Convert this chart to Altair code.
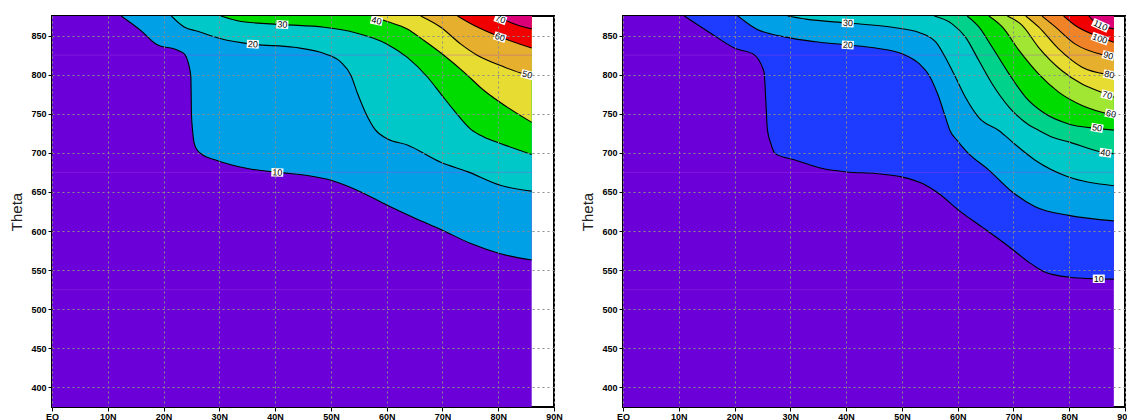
import altair as alt
import pandas as pd

# ---------------- data ----------------
THETA_RANGE = [375, 875]
LAT_RANGE = [0, 90]
LAT_TICKS = [0, 10, 20, 30, 40, 50, 60, 70, 80, 90]
LAT_LABELS = ["EQ", "10N", "20N", "30N", "40N", "50N", "60N", "70N", "80N", "90N"]
THETA_TICKS = [400, 450, 500, 550, 600, 650, 700, 750, 800, 850]
SEAM_THETA = [825, 675, 525]

# ----- left panel -----
LEFT_LAT_MAX = 86
LEFT_LEVELS = [10, 20, 30, 40, 50, 60, 70]
LEFT_COLORS = ["#6c00d8", "#00a0e6", "#00c8c8", "#00dc00", "#e6dc32", "#e6af2d", "#f00000", "#dc0078"]

L10_LAT = [12.4, 16.0, 18.7, 22.6, 23.8, 24.4, 24.9, 25.0, 25.2, 25.5, 26.1, 26.7, 29.7, 35.1, 40.5, 45.8, 50.0, 54.8, 60.1, 64.9, 70.0, 75.1, 80.4, 86.0]
L10_TH = [875, 856, 839, 831, 826, 816, 797, 750, 729, 712, 703, 699, 690, 680, 675, 671, 665, 652, 633, 617, 601, 584, 571, 563]
L20_LAT = [21.4, 23.7, 26.1, 30.3, 35.9, 43.4, 48.8, 51.8, 53.6, 54.8, 56.3, 57.9, 60.1, 63.7, 69.7, 74.5, 80.4, 86.0]
L20_TH = [875, 861, 855.5, 846, 839, 835, 827, 816, 799, 775.5, 750, 730, 718, 710, 688, 676, 658.5, 651]
L30_LAT = [30.3, 33.9, 41.5, 48.8, 54.2, 60.1, 63.7, 67.3, 69.7, 72.1, 75.1, 77.5, 80.4, 86.0]
L30_TH = [875, 868, 864, 860.6, 854, 839, 822, 797, 775.5, 754, 730, 720, 712, 698]
L40_LAT = [57.2, 60.1, 63.7, 66.7, 70.3, 73.9, 77.4, 81.6, 86.0]
L40_TH = [875, 868, 858.5, 843.6, 824.5, 803, 780, 758.5, 739]
L50_LAT = [66.1, 69.7, 73.3, 76.3, 80.4, 84.6, 86.0]
L50_TH = [875, 860.6, 839, 824.5, 811.7, 801, 799]
L60_LAT = [72.7, 75.7, 80.4, 86.0]
L60_TH = [875, 862.8, 848, 834]
L70_LAT = [79.8, 82.8, 86.0]
L70_TH = [875, 865, 858.5]

LEFT_LABEL_TXT = ["10", "20", "30", "40", "50", "60", "70"]
LEFT_LABEL_LAT = [40.4, 36.0, 41.3, 58.2, 85.2, 80.3, 80.4]
LEFT_LABEL_TH = [675, 839, 864, 869, 800, 848, 871]
LEFT_LABEL_ANG = [2, 3, 3, 12, 15, 18, 20]

# ----- right panel -----
RIGHT_LAT_MAX = 88
RIGHT_LEVELS = [10, 20, 30, 40, 50, 60, 70, 80, 90, 100, 110]
RIGHT_COLORS = ["#6c00d8", "#1e3cff", "#00a0e6", "#00c8c8", "#00d28c", "#00dc00", "#a0e632",
                "#e6dc32", "#e6af2d", "#f08228", "#f00000", "#dc0078"]

R10_LAT = [11.0, 15.5, 20.3, 23.3, 25.3, 25.6, 25.9, 26.5, 27.3, 31.0, 35.8, 40.1, 45.3, 50.1, 53.7, 56.6, 60.2, 64.4, 69.2, 72.8, 75.5, 80.0, 85.0, 88.0]
R10_TH = [875, 854, 833, 826.6, 803, 767, 729, 712, 699, 690.6, 680, 675.6, 673.5, 669, 660.7, 648, 626.5, 605, 580, 560, 548, 541, 539, 538.5]
R20_LAT = [20.6, 23.9, 29.2, 34.6, 40.3, 45.3, 50.1, 53.1, 54.9, 56.4, 57.8, 58.6, 59.9, 61.7, 65.6, 69.8, 73.9, 79.9, 88.0]
R20_TH = [875, 858.5, 848, 842, 838, 834, 826.6, 814, 799, 775.5, 746, 729, 716, 701, 678, 650, 631, 620, 613]
R30_LAT = [29.5, 32.8, 40.3, 48.3, 53.1, 56.1, 57.8, 59.6, 61.4, 63.8, 67.5, 70.1, 73.9, 79.9, 88.0]
R30_TH = [875, 871, 866, 860.6, 854, 841.5, 822, 797, 771, 745, 728, 712, 690.6, 669, 658]
R40_LAT = [55.8, 59.0, 61.4, 63.8, 66.2, 69.2, 72.7, 74.5, 77.0, 79.9, 86.5, 88.0]
R40_TH = [875, 865, 848, 818, 788, 758.5, 736, 729, 720, 714, 700, 699]
R50_LAT = [61.7, 63.8, 66.2, 69.2, 72.2, 75.7, 79.9, 85.3, 88.0]
R50_TH = [875, 861, 835, 801, 771, 750, 737, 731, 729]
R60_LAT = [65.6, 68.0, 71.0, 74.5, 78.1, 82.3, 88.0]
R60_TH = [875, 861, 831, 801, 777.7, 760.6, 748]
R70_LAT = [68.9, 71.6, 74.5, 78.7, 82.3, 86.5, 88.0]
R70_TH = [875, 862.8, 835, 805, 788, 775.5, 771]
R80_LAT = [72.2, 74.5, 78.1, 82.3, 87.1, 88.0]
R80_TH = [875, 861, 833, 809.6, 800, 799]
R90_LAT = [75.1, 77.5, 81.1, 86.5, 88.0]
R90_TH = [875, 861, 839, 824.5, 822]
R100_LAT = [79.0, 81.1, 84.7, 88.0]
R100_TH = [875, 862.8, 850, 841.5]
R110_LAT = [83.5, 85.0, 88.0]
R110_TH = [875, 865, 858.5]

RIGHT_LABEL_TXT = ["10", "20", "30", "40", "50", "60", "70", "80", "90", "100", "110"]
RIGHT_LABEL_LAT = [85.3, 40.3, 40.3, 86.5, 85.0, 87.5, 86.8, 87.2, 87.0, 85.5, 85.6]
RIGHT_LABEL_TH = [539, 838, 866, 700, 732, 750, 774, 800, 824.5, 846, 863]
RIGHT_LABEL_ANG = [0, 3, 3, 8, 10, 12, 15, 12, 15, 20, 25]

LEFT_CONTOURS = [(L10_LAT, L10_TH), (L20_LAT, L20_TH), (L30_LAT, L30_TH), (L40_LAT, L40_TH),
                 (L50_LAT, L50_TH), (L60_LAT, L60_TH), (L70_LAT, L70_TH)]
RIGHT_CONTOURS = [(R10_LAT, R10_TH), (R20_LAT, R20_TH), (R30_LAT, R30_TH), (R40_LAT, R40_TH),
                  (R50_LAT, R50_TH), (R60_LAT, R60_TH), (R70_LAT, R70_TH), (R80_LAT, R80_TH),
                  (R90_LAT, R90_TH), (R100_LAT, R100_TH), (R110_LAT, R110_TH)]

# ---------------- chart ----------------
PANEL_W = 502
PANEL_H = 391
LABEL_FONT = "Liberation Sans"

label_expr = " : ".join(
    f"datum.value == {v} ? '{t}'" for v, t in zip(LAT_TICKS, LAT_LABELS)
) + " : ''"

x_scale = alt.Scale(domain=LAT_RANGE, nice=False, zero=False)
y_scale = alt.Scale(domain=THETA_RANGE, nice=False, zero=False)
x_axis = alt.Axis(values=LAT_TICKS, labelExpr=label_expr, title=None, grid=True,
                  zindex=1, labelFontWeight="bold", labelFontSize=9, labelFont=LABEL_FONT,
                  tickSize=4, labelPadding=1, domain=False, labelFlush=False,
                  labelOverlap=False)
y_axis = alt.Axis(values=THETA_TICKS, title="Theta", grid=True, zindex=1,
                  labelFontWeight="bold", labelFontSize=9, labelFont=LABEL_FONT,
                  tickSize=4, labelPadding=2, domain=False, titlePadding=6,
                  titleFont=LABEL_FONT, titleFontSize=15, titleFontWeight="normal",
                  titleColor="#222222", labelFlush=False)


def X(field):
    return alt.X(field, type="quantitative", scale=x_scale, axis=x_axis)


def Y(field):
    return alt.Y(field, type="quantitative", scale=y_scale, axis=y_axis, stack=None)


def panel(contours, levels, colors, lat_max, lab_txt, lab_lat, lab_th, lab_ang):
    layers = []
    bg = pd.DataFrame({"x": [LAT_RANGE[0]], "x2": [lat_max],
                       "y": [THETA_RANGE[0]], "y2": [THETA_RANGE[1]]})
    layers.append(alt.Chart(bg).mark_rect(color=colors[0]).encode(
        x=X("x"), x2="x2", y=Y("y"), y2="y2"))

    line_rows = []
    for lev, (lats, ths), col in zip(levels, contours, colors[1:]):
        df = pd.DataFrame({"lat": lats, "theta": ths})
        df["top"] = THETA_RANGE[1]
        layers.append(alt.Chart(df).mark_area(color=col, interpolate="monotone", clip=True).encode(
            x=X("lat"), y=Y("theta"), y2="top"))
        for a, b in zip(lats, ths):
            line_rows.append({"level": lev, "lat": a, "theta": b})

    seam = pd.DataFrame({"y": SEAM_THETA, "x": [LAT_RANGE[0]] * len(SEAM_THETA),
                         "x2": [lat_max] * len(SEAM_THETA)})
    layers.append(alt.Chart(seam).mark_rule(color="#b040e0", opacity=0.35, strokeWidth=1).encode(
        x=X("x"), x2="x2", y=Y("y")))

    ldf = pd.DataFrame(line_rows)
    layers.append(alt.Chart(ldf).mark_line(color="black", strokeWidth=1.1,
                                           interpolate="monotone", clip=True).encode(
        x=X("lat"), y=Y("theta"), detail="level:N"))

    lab = pd.DataFrame({"txt": lab_txt, "lat": lab_lat, "theta": lab_th, "ang": lab_ang})
    lab["w"] = [144 if len(t) < 3 else 289 for t in lab_txt]
    two = lab[lab["w"] == 144]
    three = lab[lab["w"] == 289]
    layers.append(alt.Chart(two).mark_point(
        shape="M-1,-0.7L1,-0.7L1,0.7L-1,0.7Z", filled=True, color="white", opacity=1,
        size=144, clip=True).encode(x=X("lat"), y=Y("theta"),
                                    angle=alt.Angle("ang:Q", scale=None)))
    if len(three):
        layers.append(alt.Chart(three).mark_point(
            shape="M-1,-0.5L1,-0.5L1,0.5L-1,0.5Z", filled=True, color="white", opacity=1,
            size=289, clip=True).encode(x=X("lat"), y=Y("theta"),
                                        angle=alt.Angle("ang:Q", scale=None)))
    layers.append(alt.Chart(lab).mark_text(
        font=LABEL_FONT, fontSize=9, color="black", align="center", baseline="middle",
        clip=True).encode(x=X("lat"), y=Y("theta"), text="txt:N",
                          angle=alt.Angle("ang:Q", scale=None)))

    return alt.layer(*layers).properties(width=PANEL_W, height=PANEL_H)


left = panel(LEFT_CONTOURS, LEFT_LEVELS, LEFT_COLORS, LEFT_LAT_MAX,
             LEFT_LABEL_TXT, LEFT_LABEL_LAT, LEFT_LABEL_TH, LEFT_LABEL_ANG)
right = panel(RIGHT_CONTOURS, RIGHT_LEVELS, RIGHT_COLORS, RIGHT_LAT_MAX,
              RIGHT_LABEL_TXT, RIGHT_LABEL_LAT, RIGHT_LABEL_TH, RIGHT_LABEL_ANG)

chart = alt.hconcat(left, right, spacing=15).properties(
    padding={"left": 8, "top": 15, "right": -8, "bottom": 0},
    background="white",
).configure_view(
    stroke="black", strokeWidth=2
).configure_axis(
    gridColor="#8c8c8c", gridDash=[2, 3], gridWidth=1, gridOpacity=1,
    tickColor="black", labelColor="black",
)

chart.save("out.html", embed_options={"renderer": "svg", "actions": False})
